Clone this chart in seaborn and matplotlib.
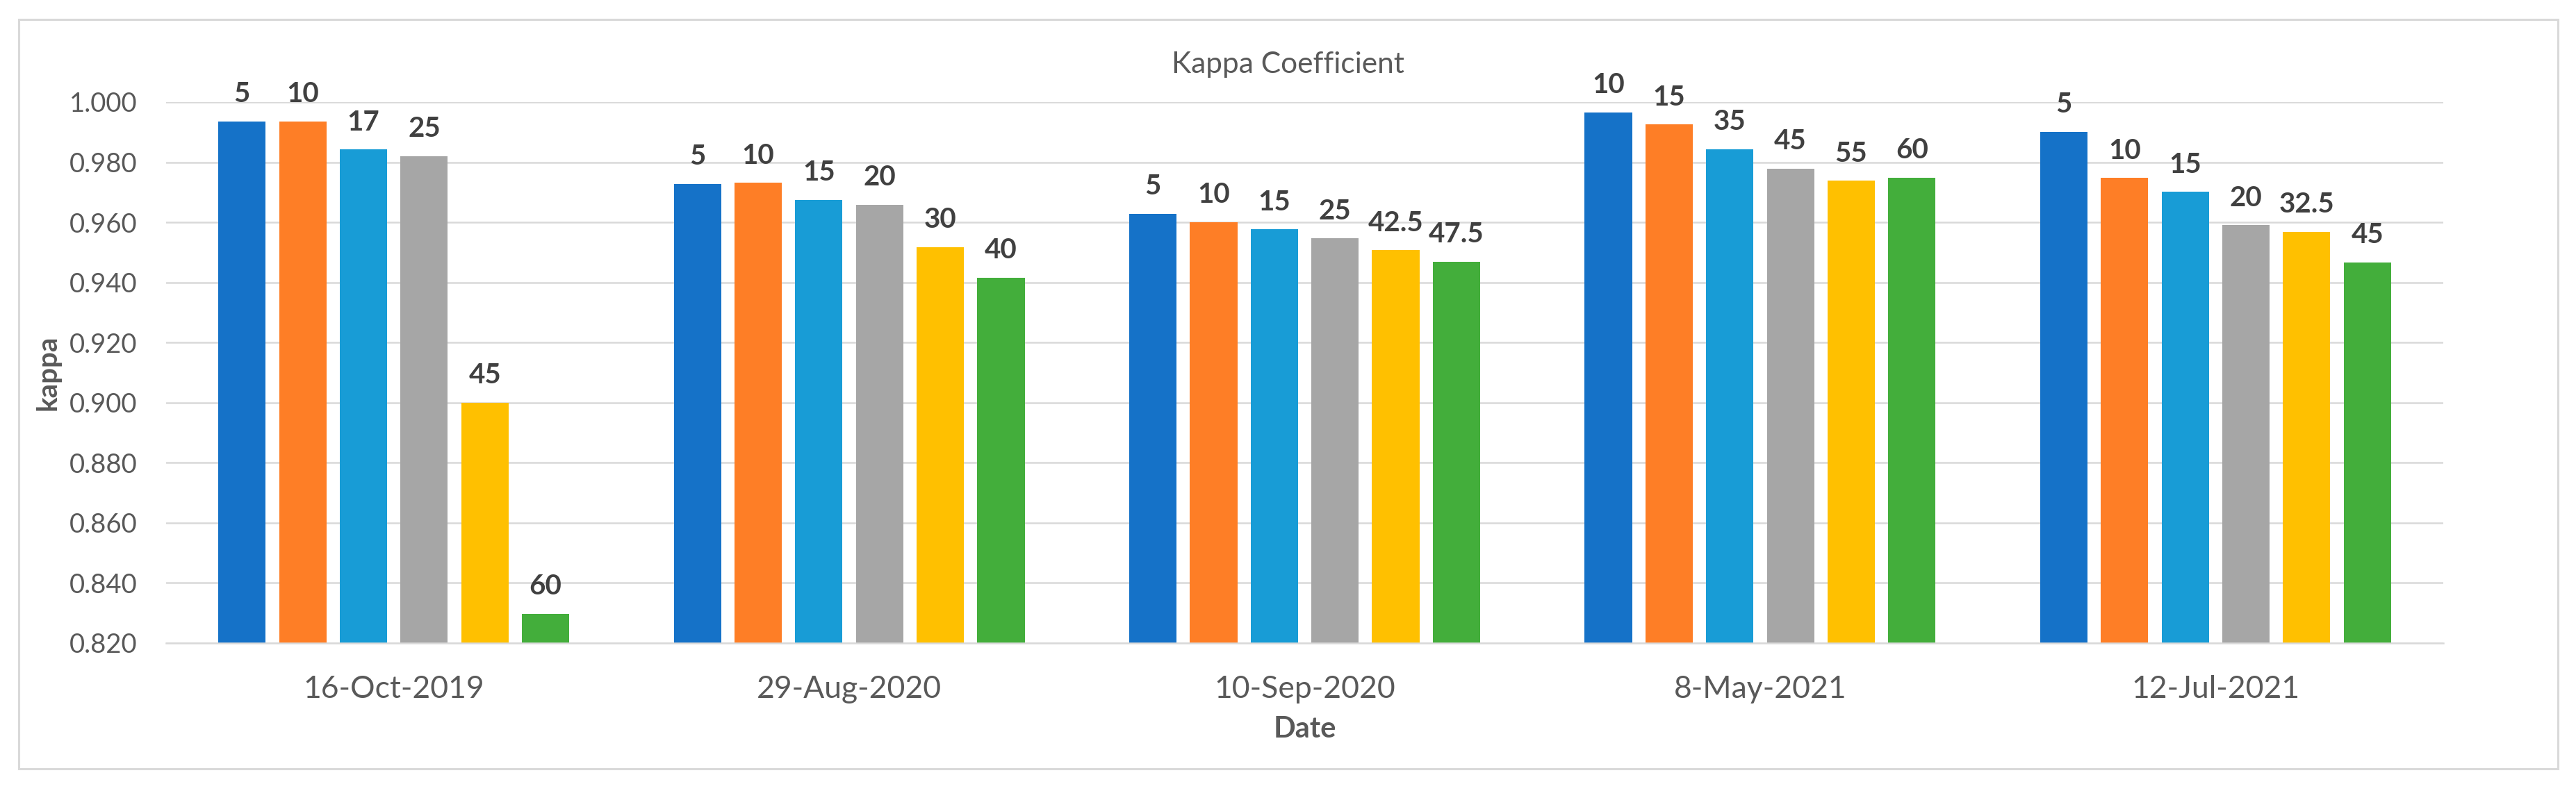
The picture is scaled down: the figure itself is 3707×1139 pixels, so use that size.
import matplotlib
matplotlib.use("Agg")
import matplotlib.pyplot as plt
from matplotlib.patches import Rectangle
import seaborn as sns
import pandas as pd
import numpy as np

# ---------------- data ----------------
dates = ["16-Oct-2019", "29-Aug-2020", "10-Sep-2020", "8-May-2021", "12-Jul-2021"]
series = ["s1", "s2", "s3", "s4", "s5", "s6"]

kappa_2019_10_16 = [0.9935, 0.9935, 0.9842, 0.9820, 0.9000, 0.8297]
kappa_2020_08_29 = [0.9728, 0.9731, 0.9674, 0.9658, 0.9518, 0.9415]
kappa_2020_09_10 = [0.9629, 0.9601, 0.9576, 0.9546, 0.9507, 0.9468]
kappa_2021_05_08 = [0.9965, 0.9925, 0.9843, 0.9778, 0.9738, 0.9748]
kappa_2021_07_12 = [0.9900, 0.9747, 0.9701, 0.9590, 0.9569, 0.9466]

labels_2019_10_16 = ["5", "10", "17", "25", "45", "60"]
labels_2020_08_29 = ["5", "10", "15", "20", "30", "40"]
labels_2020_09_10 = ["5", "10", "15", "25", "42.5", "47.5"]
labels_2021_05_08 = ["10", "15", "35", "45", "55", "60"]
labels_2021_07_12 = ["5", "10", "15", "20", "32.5", "45"]

yticks = [0.82, 0.84, 0.86, 0.88, 0.90, 0.92, 0.94, 0.96, 0.98, 1.00]

colors = ["#1572C8", "#FE7E26", "#189CD6", "#A6A6A6", "#FFC000", "#43AE3B"]

values_by_date = [kappa_2019_10_16, kappa_2020_08_29, kappa_2020_09_10,
                  kappa_2021_05_08, kappa_2021_07_12]
labels_by_date = [labels_2019_10_16, labels_2020_08_29, labels_2020_09_10,
                  labels_2021_05_08, labels_2021_07_12]

rows = []
for d, vals in zip(dates, values_by_date):
    for s, v in zip(series, vals):
        rows.append({"Date": d, "series": s, "kappa": v})
df = pd.DataFrame(rows)

# ---------------- figure ----------------
sns.set_theme(style="white")
plt.rcParams["font.family"] = ["Lato", "DejaVu Sans"]

W, H, DPI = 3707, 1139, 100
fig = plt.figure(figsize=(W / DPI, H / DPI), dpi=DPI)
fig.patch.set_facecolor("white")

ax_l, ax_r, ax_t, ax_b = 239, 3516, 147, 926
ax = fig.add_axes([ax_l / W, 1 - ax_b / H, (ax_r - ax_l) / W, (ax_b - ax_t) / H])

sns.barplot(data=df, x="Date", y="kappa", hue="series", order=dates,
            hue_order=series, palette=colors, saturation=1, width=0.8,
            gap=0.22, legend=False, linewidth=0, errorbar=None, ax=ax)

ax.set_ylim(0.82, 1.0)
ax.set_xlim(-0.5, 4.5)
ax.set_yticks(yticks)
ax.set_yticklabels([f"{t:.3f}" for t in yticks])

grid_c = "#D9D9D9"
ax.set_axisbelow(True)
ax.yaxis.grid(True, color=grid_c, linewidth=1.8)
ax.xaxis.grid(False)
for side in ["left", "right", "top"]:
    ax.spines[side].set_visible(False)
ax.spines["bottom"].set_color(grid_c)
ax.spines["bottom"].set_linewidth(1.8)

ax.tick_params(axis="y", length=0, pad=30, labelsize=27.5, labelcolor="#595959")
ax.tick_params(axis="x", which="major", length=0, pad=33, labelsize=32,
               labelcolor="#595959")
ax.set_xticks(np.arange(-0.5, 5.0, 1.0), minor=True)
ax.tick_params(axis="x", which="minor", length=11.5, width=1.2, color=grid_c,
               direction="out")

ax.set_ylabel("kappa", fontsize=29, fontweight="bold", color="#595959",
              labelpad=9)
ax.set_xlabel("")
fig.text(0.5 * (ax_l + ax_r) / W, 1 - 1050 / H, "Date", ha="center",
         va="center", fontsize=30, fontweight="bold", color="#595959")

# data labels
for i, cont in enumerate(ax.containers):
    labs = [labels_by_date[j][i] for j in range(len(dates))]
    ax.bar_label(cont, labels=labs, padding=15, fontsize=29,
                 fontweight="bold", color="#404040")

# title
fig.text(0.5, 1 - 105 / H, "Kappa Coefficient", ha="center", va="baseline",
         fontsize=30.5, color="#595959")

# outer border
fig.patches.append(Rectangle((27 / W, 1 - 1107 / H), (3681 - 27) / W,
                             (1107 - 28) / H, transform=fig.transFigure,
                             fill=False, edgecolor=grid_c, linewidth=2.2))

fig.savefig("out.png", dpi=DPI, facecolor="white")
